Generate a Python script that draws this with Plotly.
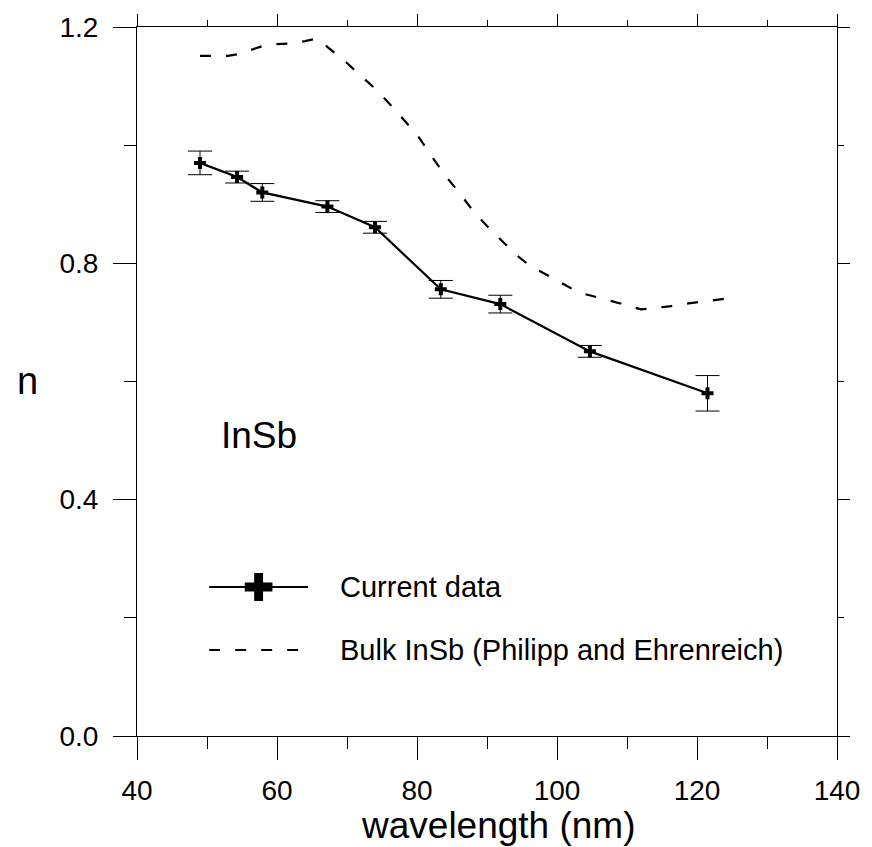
import plotly.graph_objects as go

# Current data (measured)
wavelength = [49.0, 54.3, 57.9, 67.2, 74.0, 83.4, 91.9, 104.7, 121.5]
n_current = [0.970, 0.946, 0.920, 0.896, 0.861, 0.756, 0.731, 0.651, 0.580]
n_err = [0.020, 0.010, 0.015, 0.010, 0.010, 0.015, 0.015, 0.010, 0.030]

# Bulk InSb (Philipp and Ehrenreich)
bulk_wavelength = [49.0, 51.0, 53.0, 54.5, 56.5, 58.0, 60.0, 62.0, 64.0, 65.5, 66.5,
                   68.0, 70.0, 72.0, 74.0, 76.0, 78.0, 80.0, 82.0, 84.0, 86.0, 88.0,
                   90.0, 92.0, 94.0, 96.0, 98.0, 100.0, 102.0, 104.0, 106.0, 108.0,
                   110.0, 112.0, 114.0, 116.0, 118.0, 120.0, 122.0, 124.0]
bulk_n = [1.151, 1.151, 1.151, 1.154, 1.162, 1.168, 1.171, 1.172, 1.176, 1.180, 1.173,
          1.158, 1.139, 1.117, 1.096, 1.071, 1.045, 1.018, 0.983, 0.949, 0.920, 0.889,
          0.863, 0.840, 0.816, 0.797, 0.784, 0.770, 0.758, 0.748, 0.742, 0.735,
          0.729, 0.722, 0.724, 0.727, 0.731, 0.734, 0.738, 0.740]

legend_names = ["Current data", "Bulk InSb (Philipp and Ehrenreich)"]

x_range = [40, 140]
y_range = [0, 1.2]

FONT = "Liberation Sans, Arial, sans-serif"
W, H = 872, 847
ML, MR, MT, MB = 137, 27, 27, 111
PW, PH = W - ML - MR, H - MT - MB


def px(x):  # pixel x -> paper x
    return (x - ML) / PW


def py(y):  # pixel y -> paper y
    return (H - MB - y) / PH


fig = go.Figure()

fig.add_trace(go.Scatter(
    x=wavelength, y=n_current, mode="lines+markers", name=legend_names[0],
    line=dict(color="black", width=2.2),
    marker=dict(symbol="cross", size=10, color="black"),
    error_y=dict(type="data", array=n_err, visible=True, color="black",
                 thickness=1, width=12),
))

fig.add_trace(go.Scatter(
    x=bulk_wavelength, y=bulk_n, mode="lines", name=legend_names[1],
    line=dict(color="black", width=2.2, dash="11px,15px"),
))

# invisible trace to carry the mirrored (top/right) axes
fig.add_trace(go.Scatter(
    x=wavelength, y=n_current, xaxis="x2", yaxis="y2", mode="markers",
    marker=dict(opacity=0), hoverinfo="skip", showlegend=False,
))

common = dict(showline=True, linecolor="black", linewidth=1, showgrid=False,
              zeroline=False, ticks="outside", tickcolor="black", tickwidth=1)

# legend drawn by hand (line samples + big cross), rows at these pixel heights
row1, row2 = 587, 650
lx0, lx1, ltext = 210, 310, 340
cx, arm, half = 260, 4.5, 14

cross_path = (
    f"M{px(cx-arm)},{py(row1-half)} L{px(cx+arm)},{py(row1-half)} "
    f"L{px(cx+arm)},{py(row1-arm)} L{px(cx+half)},{py(row1-arm)} "
    f"L{px(cx+half)},{py(row1+arm)} L{px(cx+arm)},{py(row1+arm)} "
    f"L{px(cx+arm)},{py(row1+half)} L{px(cx-arm)},{py(row1+half)} "
    f"L{px(cx-arm)},{py(row1+arm)} L{px(cx-half)},{py(row1+arm)} "
    f"L{px(cx-half)},{py(row1-arm)} L{px(cx-arm)},{py(row1-arm)} Z"
)

shapes = [
    dict(type="line", xref="paper", yref="paper", x0=px(lx0), x1=px(lx1),
         y0=py(row1), y1=py(row1), line=dict(color="black", width=2)),
    dict(type="path", xref="paper", yref="paper", path=cross_path,
         fillcolor="black", line=dict(color="black", width=0)),
    dict(type="line", xref="paper", yref="paper", x0=px(lx0), x1=px(lx0 + 90),
         y0=py(row2), y1=py(row2), line=dict(color="black", width=2, dash="11px,15px")),
]

fig.update_layout(
    width=W, height=H,
    margin=dict(l=ML, r=MR, t=MT, b=MB),
    paper_bgcolor="white", plot_bgcolor="white",
    font=dict(family=FONT, color="black", size=28),
    showlegend=False,
    xaxis=dict(range=x_range, tick0=40, dtick=20, ticklen=23,
               tickfont=dict(size=28), ticklabelstandoff=6,
               minor=dict(ticks="outside", ticklen=12, dtick=10, tick0=40,
                          tickcolor="black", tickwidth=1, showgrid=False),
               **common),
    yaxis=dict(range=y_range, tick0=0, dtick=0.4, ticklen=23, tickformat=".1f",
               tickfont=dict(size=28), ticklabelstandoff=9,
               minor=dict(ticks="outside", ticklen=12, dtick=0.2, tick0=0,
                          tickcolor="black", tickwidth=1, showgrid=False),
               **common),
    xaxis2=dict(range=x_range, overlaying="x", side="top", anchor="y2",
                tick0=40, dtick=20, ticklen=12, showticklabels=False,
                minor=dict(ticks="outside", ticklen=6, dtick=10, tick0=40,
                           tickcolor="black", tickwidth=1, showgrid=False),
                **common),
    yaxis2=dict(range=y_range, overlaying="y", side="right", anchor="x2",
                tick0=0, dtick=0.4, ticklen=12, showticklabels=False,
                minor=dict(ticks="outside", ticklen=6, dtick=0.2, tick0=0,
                           tickcolor="black", tickwidth=1, showgrid=False),
                **common),
    shapes=shapes,
    annotations=[
        dict(text="wavelength (nm)", xref="paper", yref="paper", x=px(503), y=py(825),
             xanchor="center", yanchor="middle", showarrow=False,
             font=dict(size=37, family=FONT)),
        dict(text="n", xref="paper", yref="paper", x=px(26), y=py(381),
             xanchor="center", yanchor="middle", showarrow=False,
             font=dict(size=38, family=FONT)),
        dict(text="InSb", xref="paper", yref="paper", x=px(220), y=py(435),
             xanchor="left", yanchor="middle", showarrow=False,
             font=dict(size=37, family=FONT)),
        dict(text=legend_names[0], xref="paper", yref="paper", x=px(ltext), y=py(row1),
             xanchor="left", yanchor="middle", showarrow=False,
             font=dict(size=29, family=FONT)),
        dict(text=legend_names[1], xref="paper", yref="paper", x=px(ltext), y=py(row2),
             xanchor="left", yanchor="middle", showarrow=False,
             font=dict(size=29, family=FONT)),
    ],
)

fig.write_html("out.html")
